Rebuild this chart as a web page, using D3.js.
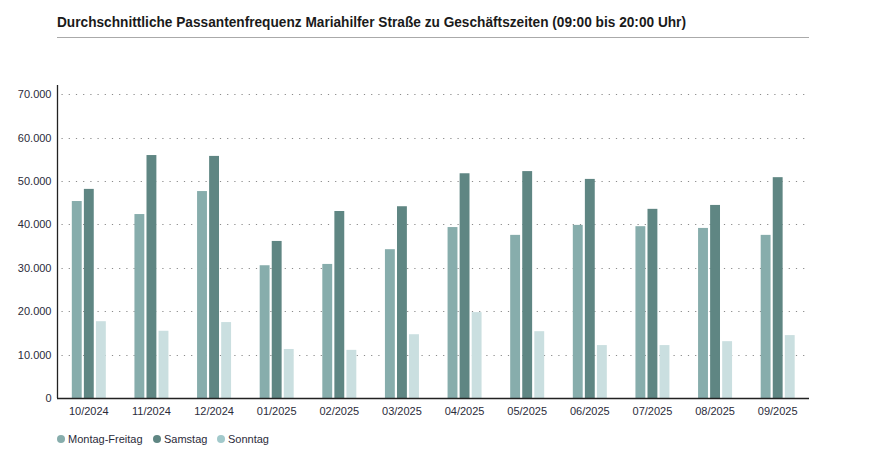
<!DOCTYPE html>
<html>
<head>
<meta charset="utf-8">
<script src="https://cdn.jsdelivr.net/npm/d3@7"></script>
<style>
  html, body { margin: 0; padding: 0; background: #fff; }
  svg { display: block; }
</style>
</head>
<body>
<svg id="chart" width="873" height="449"></svg>
<script>
const categories = ["10/2024","11/2024","12/2024","01/2025","02/2025","03/2025","04/2025","05/2025","06/2025","07/2025","08/2025","09/2025"];
const seriesNames = ["Montag-Freitag","Samstag","Sonntag"];
const montagFreitag = [45400, 42400, 47700, 30600, 30900, 34300, 39400, 37600, 39900, 39600, 39200, 37600];
const samstag       = [48200, 56000, 55800, 36200, 43100, 44200, 51800, 52300, 50500, 43600, 44500, 50900];
const sonntag       = [17700, 15500, 17500, 11300, 11100, 14700, 19800, 15400, 12200, 12200, 13100, 14500];
const yTicks = [0, 10000, 20000, 30000, 40000, 50000, 60000, 70000];
const title = "Durchschnittliche Passantenfrequenz Mariahilfer Straße zu Geschäftszeiten (09:00 bis 20:00 Uhr)";

const barColors = ["#87adac", "#5f8683", "#cadfe0"];
const legendColors = ["#87adac", "#5f8683", "#a2c9cb"];

(function () {
const seriesValues = [montagFreitag, samstag, sonntag];
const rows = categories.map((c, i) => ({ cat: c, vals: seriesValues.map((s, j) => ({ key: seriesNames[j], v: s[i], j })) }));

const svg = d3.select("#chart");
const mLeft = 57.5, mRight = 809, mTop = 85, mBottom = 398;
const font = "'Liberation Sans', Arial, sans-serif";

// title
svg.append("text")
  .attr("x", 57).attr("y", 27)
  .attr("font-family", "'Liberation Sans', Arial, sans-serif")
  .attr("font-weight", "bold")
  .attr("font-size", 15)
  .attr("textLength", 629)
  .attr("lengthAdjust", "spacingAndGlyphs")
  .attr("fill", "#1a1a1a")
  .text(title);
svg.append("line")
  .attr("x1", 57).attr("x2", 809).attr("y1", 37.5).attr("y2", 37.5)
  .attr("stroke", "#aaaaaa").attr("stroke-width", 1);

const y = d3.scaleLinear().domain([0, 70000]).range([mBottom, 94.3]);
const x0 = d3.scaleBand().domain(categories).range([mLeft, mRight]).padding(0);
const groupW = 34;
const x1 = d3.scaleBand().domain(seriesNames).range([0, groupW]).paddingInner(0.18).paddingOuter(0);

// grid
svg.append("g").selectAll("line").data(yTicks.filter(d => d > 0)).join("line")
  .attr("x1", mLeft + 4).attr("x2", mRight)
  .attr("y1", d => Math.round(y(d)) + 0.5).attr("y2", d => Math.round(y(d)) + 0.5)
  .attr("stroke", "#8a8a8a").attr("stroke-width", 1.2)
  .attr("stroke-dasharray", "1.2,6");

// y axis
const yAxis = d3.axisLeft(y).tickValues(yTicks).tickSize(0).tickPadding(6)
  .tickFormat(d => d === 0 ? "0" : d3.format(",")(d).replace(/,/g, "."));
const gy = svg.append("g").attr("transform", `translate(${mLeft},0)`).call(yAxis);
gy.select(".domain").remove();
gy.selectAll("text").attr("font-family", font).attr("font-size", 11).attr("fill", "#2b2b3a");
svg.append("line").attr("x1", mLeft).attr("x2", mLeft).attr("y1", mTop).attr("y2", mBottom)
  .attr("stroke", "#222").attr("stroke-width", 1.3);

// bars
const groups = svg.append("g").selectAll("g").data(rows).join("g")
  .attr("transform", d => `translate(${x0(d.cat) + x0.bandwidth() / 2 - groupW / 2},0)`);
groups.selectAll("rect").data(d => d.vals).join("rect")
  .attr("x", d => x1(d.key))
  .attr("width", x1.bandwidth())
  .attr("y", d => y(d.v))
  .attr("height", d => y(0) - y(d.v))
  .attr("fill", d => barColors[d.j]);

// x axis
const xAxis = d3.axisBottom(x0).tickSize(0).tickPadding(9);
const gx = svg.append("g").attr("transform", `translate(0,${mBottom})`).call(xAxis);
gx.select(".domain").remove();
gx.selectAll("text").attr("font-family", font).attr("font-size", 11).attr("fill", "#2b2b3a");
svg.append("line").attr("x1", mLeft - 0.5).attr("x2", mRight).attr("y1", mBottom + 0.5).attr("y2", mBottom + 0.5)
  .attr("stroke", "#222").attr("stroke-width", 1.5);

// legend
const legendX = [61, 157, 221];
const lg = svg.append("g").selectAll("g").data(seriesNames).join("g")
  .attr("transform", (d, i) => `translate(${legendX[i]},439)`);
lg.append("circle").attr("r", 4).attr("fill", (d, i) => legendColors[i]);
lg.append("text").attr("x", 7).attr("y", 4)
  .attr("font-family", font).attr("font-size", 11).attr("fill", "#2b2b3a")
  .text(d => d);
})();
</script>
</body>
</html>
